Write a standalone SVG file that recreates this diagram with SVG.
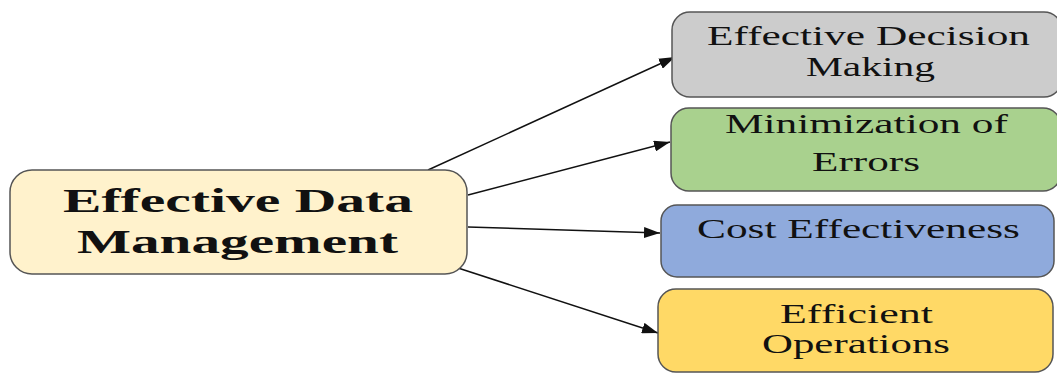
<svg xmlns="http://www.w3.org/2000/svg" width="1057" height="374" viewBox="0 0 1057 374">
<style>
.box{stroke:#555;stroke-width:1.5}
.t{font-family:"Liberation Serif","Times New Roman",serif;font-size:27px;fill:#111}
.m{font-family:"Liberation Serif","Times New Roman",serif;font-size:33px;font-weight:bold;fill:#111}
.c{stroke:#111;stroke-width:1.5;fill:none;marker-end:url(#ah)}
</style>
<defs>
<marker id="ah" viewBox="0 0 16 11" refX="16" refY="5.5" markerWidth="16" markerHeight="11" markerUnits="userSpaceOnUse" orient="auto"><path d="M0,0 L16,5.5 L0,11 z" fill="#111"/></marker>
</defs>
<rect width="1057" height="374" fill="#fff"/>
<g id="connectors">
<line class="c" x1="428" y1="170" x2="675" y2="57"/>
<line class="c" x1="468" y1="195" x2="670" y2="142"/>
<line class="c" x1="468" y1="227" x2="660" y2="233"/>
<line class="c" x1="458" y1="268" x2="658" y2="333"/>
</g>
<g id="main">
<rect class="box" x="10" y="170" width="457" height="104" rx="22" fill="#fff2cc"/>
<text class="m" x="63" y="212" textLength="350" lengthAdjust="spacingAndGlyphs">Effective Data</text>
<text class="m" x="77" y="253" textLength="321" lengthAdjust="spacingAndGlyphs">Management</text>
</g>
<g id="decision">
<rect class="box" x="672" y="12" width="390" height="85" rx="18" fill="#cccccc"/>
<text class="t" x="707" y="45" textLength="323" lengthAdjust="spacingAndGlyphs">Effective Decision</text>
<text class="t" x="806" y="76" textLength="129" lengthAdjust="spacingAndGlyphs">Making</text>
</g>
<g id="errors">
<rect class="box" x="671" y="108" width="390" height="83" rx="18" fill="#a9d18e"/>
<text class="t" x="725" y="133" textLength="283" lengthAdjust="spacingAndGlyphs">Minimization of</text>
<text class="t" x="812" y="171" textLength="108" lengthAdjust="spacingAndGlyphs">Errors</text>
</g>
<g id="cost">
<rect class="box" x="661" y="205" width="393" height="72" rx="16" fill="#8faadc"/>
<text class="t" x="697" y="238" textLength="323" lengthAdjust="spacingAndGlyphs">Cost Effectiveness</text>
</g>
<g id="operations">
<rect class="box" x="658" y="289" width="395" height="83" rx="18" fill="#ffd966"/>
<text class="t" x="780" y="323" textLength="153" lengthAdjust="spacingAndGlyphs">Efficient</text>
<text class="t" x="762" y="353" textLength="188" lengthAdjust="spacingAndGlyphs">Operations</text>
</g>
</svg>
